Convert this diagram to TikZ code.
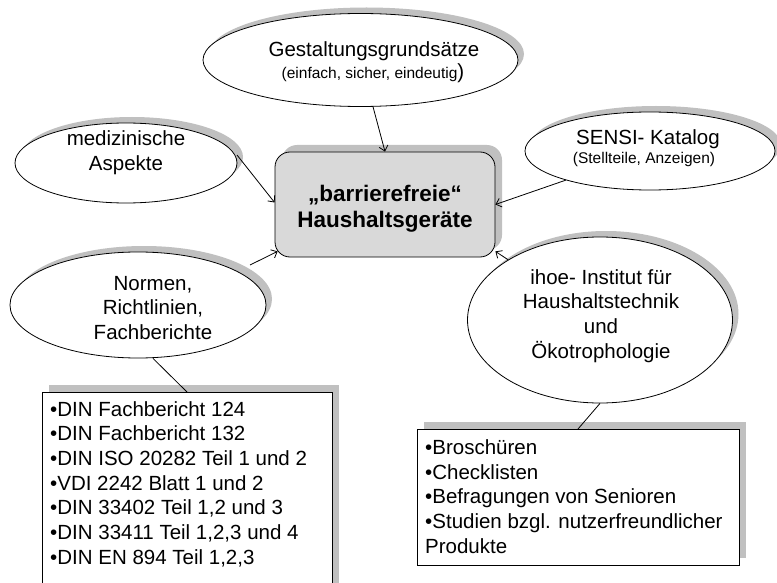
\documentclass[tikz,border=0pt]{standalone}
\usepackage{fontspec}
\setmainfont{Liberation Sans}
\usetikzlibrary{shapes.geometric,shadows,arrows.meta,calc}
\definecolor{shade}{HTML}{C0C0C0}
\definecolor{boxfill}{HTML}{D9D9D9}
\newcommand\mainsize{\fontsize{20.5}{24.7}\selectfont}
\newcommand\subsize{\fontsize{15.5}{18.6}\selectfont}
\newcommand\boldsize{\fontsize{22.5}{26}\selectfont\bfseries}
% stacked lines whose reference point is the baseline of the first line
\newcommand\ctrlines[1]{\vtop{\halign{\hfil##\hfil\cr#1\crcr}}}
\newcommand\leftlines[1]{\vtop{\halign{##\hfil\cr#1\crcr}}}
\begin{document}
\begin{tikzpicture}[x=1pt,y=-1pt,
  sh/.style={copy shadow={shadow xshift=#1,shadow yshift=#1,fill=shade,draw=none}},
  bubble/.style={ellipse,draw,fill=white,line width=0.8pt,inner sep=0pt,sh=6pt},
  listbox/.style={rectangle,draw,fill=white,line width=0.8pt,inner sep=0pt,sh=7pt},
  centerbox/.style={rectangle,rounded corners=15pt,draw,fill=boxfill,line width=0.8pt,inner sep=0pt,sh=7pt},
  txt/.style={inner sep=0pt,font=\mainsize},
  subtxt/.style={inner sep=0pt,font=\subsize},
  arr/.style={line width=0.8pt,-{Straight Barb[length=5pt,width=9pt]}},
  link/.style={line width=0.8pt}]
\useasboundingbox (0,0) rectangle (777,583);
\clip (0,0) rectangle (777,583);
\fill[white] (0,0) rectangle (777,583);

% central topic
\node[centerbox,minimum width=220pt,minimum height=105pt] (box) at (385,204.5) {};
\node[txt,font=\boldsize,anchor=base] (boxtext) at (385,201) {\ctrlines{„barrierefreie“\cr Haushaltsgeräte}};

% surrounding bubbles
\node[bubble,minimum width=315pt,minimum height=93pt] (gest) at (360.5,60) {};
\node[txt,anchor=base] (gesttitle) at (374,56.7) {Gestaltungsgrundsätze};
\node[subtxt,anchor=base] (gestsub) at (373,78.7) {(einfach, sicher, eindeutig{\mainsize)}};

\node[bubble,minimum width=222pt,minimum height=80pt] (med) at (126,163) {};
\node[txt,anchor=base] (medtext) at (126,146) {\ctrlines{medizinische\cr Aspekte}};

\node[bubble,minimum width=250pt,minimum height=78pt] (sensi) at (650,151) {};
\node[txt,anchor=base] (sensititle) at (648,144.3) {SENSI- Katalog};
\node[subtxt,anchor=base] (sensisub) at (644,164) {(Stellteile, Anzeigen)};

\node[bubble,minimum width=256pt,minimum height=106pt] (normen) at (138,305) {};
\node[txt,anchor=base] (normtext) at (153,290) {\ctrlines{Normen,\cr Richtlinien,\cr Fachberichte}};

\node[bubble,minimum width=265pt,minimum height=166pt] (ihoe) at (600,320) {};
\node[txt,anchor=base] (ihoetext) at (601,284) {\ctrlines{ihoe- Institut für\cr Haushaltstechnik\cr und\cr Ökotrophologie}};

% detail lists
\node[listbox,minimum width=290pt,minimum height=220pt,anchor=north west] (normlist) at (42,392) {};
\node[txt,anchor=base west] (normitems) at (50,416)
  {\leftlines{•DIN Fachbericht 124\cr •DIN Fachbericht 132\cr •DIN ISO 20282 Teil 1 und 2\cr •VDI 2242 Blatt 1 und 2\cr •DIN 33402 Teil 1,2 und 3\cr •DIN 33411 Teil 1,2,3 und 4\cr •DIN EN 894 Teil 1,2,3}};

\node[listbox,minimum width=322pt,minimum height=136pt,anchor=north west] (ihoelist) at (417,429) {};
\node[txt,anchor=base west] (ihoeitems) at (425,454.5)
  {\leftlines{•Broschüren\cr •Checklisten\cr •Befragungen von Senioren\cr •Studien bzgl. nutzerfreundlicher\cr Produkte}};

% connectors
\draw[arr] (gest) -- (box.north);
\draw[arr] ($(med.center)+(111,-8)$) -- ($(box.west)+(0,-2)$);
\draw[arr] (sensi) -- (box.east);
\draw[arr] ($(normen.center)+(112,-40)$) -- ($(box.south west)+(3,-6)$);
\draw[arr] (ihoe) -- ($(box.south east)+(0,-6)$);
\draw[link] ($(normen.south)+(15,0)$) -- ($(normlist.north west)+(145,0)$);
\draw[link] (ihoe.south) -- ($(ihoelist.north west)+(161,0)$);
\end{tikzpicture}
\end{document}
